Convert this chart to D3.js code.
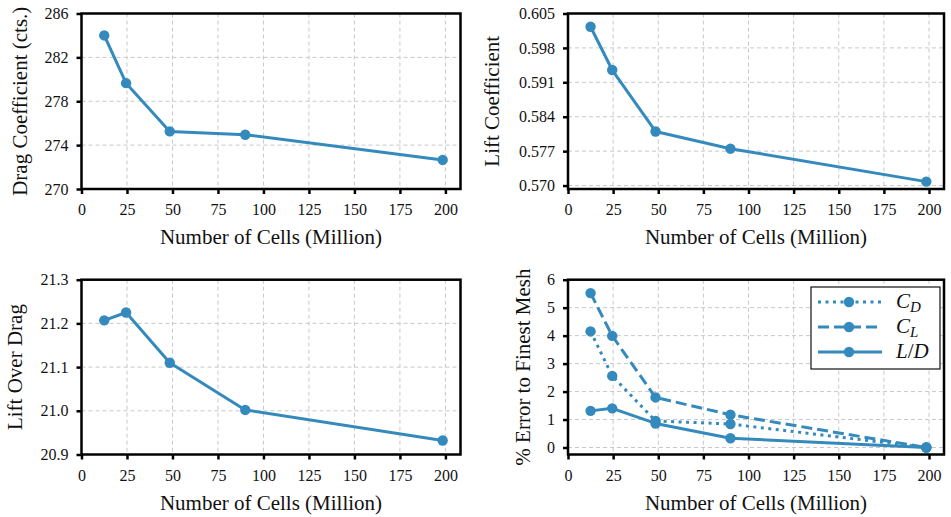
<!DOCTYPE html>
<html>
<head>
<meta charset="utf-8">
<script src="https://cdn.jsdelivr.net/npm/d3@7"></script>
<style>
  body { margin: 0; background: #fff; }
  svg { display: block; }
  .grid line { stroke: #c8c8c8; stroke-width: 1; stroke-dasharray: 4 3; }
</style>
</head>
<body>
<div id="chart"></div>
<script>
// mesh sizes (million cells)
const cells = [12.5, 24.5, 48.5, 90, 198.5];

// panel data
const dragCts = [284.0, 279.65, 275.25, 274.95, 272.65];
const liftCoef = [0.6023, 0.5935, 0.5810, 0.5775, 0.5708];
const liftOverDrag = [21.207, 21.225, 21.110, 21.002, 20.932];
const errCD = [4.15, 2.56, 0.95, 0.84, 0.0];
const errCL = [5.52, 3.99, 1.79, 1.17, 0.0];
const errLD = [1.31, 1.40, 0.86, 0.33, 0.0];

// tick labels
const xTicks = [0, 25, 50, 75, 100, 125, 150, 175, 200];
const dragTicks = [270, 274, 278, 282, 286];
const liftTicks = [0.570, 0.577, 0.584, 0.591, 0.598, 0.605];
const ldTicks = [20.9, 21.0, 21.1, 21.2, 21.3];
const errTicks = [0, 1, 2, 3, 4, 5, 6];

const color = '#348abd';
const serif = 'Liberation Serif';
const W = 951, H = 517;

const svg = d3.select('#chart').append('svg')
  .attr('width', W)
  .attr('height', H);

// dash patterns like matplotlib ':' '--' '-'
const dashes = { dotted: '3 4.5', dashed: '11 5', solid: null };

function drawPanel(p) {
  const x = d3.scaleLinear().domain([0, 208.3]).range([p.left, p.right]);
  const y = d3.scaleLinear().domain(p.yDomain).range([p.bottom, p.top]);

  const g = svg.append('g');

  // grid
  const grid = g.append('g').attr('class', 'grid');
  grid.selectAll('.gx').data(xTicks).enter().append('line')
    .attr('x1', d => x(d)).attr('x2', d => x(d))
    .attr('y1', p.top).attr('y2', p.bottom);
  grid.selectAll('.gy').data(p.yTicks).enter().append('line')
    .attr('x1', p.left).attr('x2', p.right)
    .attr('y1', d => y(d)).attr('y2', d => y(d));

  // axes
  const xaxis = d3.axisBottom(x).tickValues(xTicks).tickSize(5).tickPadding(10)
    .tickFormat(d3.format('d'));
  const yaxis = d3.axisLeft(y).tickValues(p.yTicks).tickSize(5).tickPadding(8)
    .tickFormat(p.fmt);

  const gx = g.append('g').attr('transform', `translate(0,${p.bottom})`).call(xaxis);
  const gy = g.append('g').attr('transform', `translate(${p.left},0)`).call(yaxis);
  [gx, gy].forEach(a => {
    a.select('.domain').remove();
    a.selectAll('.tick line').attr('stroke', '#000').attr('stroke-width', 2.5);
    a.selectAll('.tick text')
      .style('font-family', serif)
      .style('font-size', '16px')
      .attr('fill', '#111');
  });

  // series
  const line = d3.line().x(d => x(d[0])).y(d => y(d[1]));
  p.series.forEach(s => {
    const pts = cells.map((c, i) => [c, s.values[i]]);
    g.append('path')
      .datum(pts)
      .attr('d', line)
      .attr('fill', 'none')
      .attr('stroke', color)
      .attr('stroke-width', 3)
      .attr('stroke-dasharray', dashes[s.style])
      .attr('stroke-linejoin', 'round');
    g.selectAll(null).data(pts).enter().append('circle')
      .attr('cx', d => x(d[0]))
      .attr('cy', d => y(d[1]))
      .attr('r', 5.2)
      .attr('fill', color);
  });

  // frame
  g.append('rect')
    .attr('x', p.left).attr('y', p.top)
    .attr('width', p.right - p.left).attr('height', p.bottom - p.top)
    .attr('fill', 'none').attr('stroke', '#000').attr('stroke-width', 2.5);

  // labels
  g.append('text')
    .attr('x', (p.left + p.right) / 2)
    .attr('y', p.bottom + 55)
    .attr('text-anchor', 'middle')
    .style('font-family', serif)
    .style('font-size', '21px')
    .attr('fill', '#111')
    .text('Number of Cells (Million)');

  g.append('text')
    .attr('transform', `translate(${p.yLabelX},${(p.top + p.bottom) / 2}) rotate(-90)`)
    .attr('text-anchor', 'middle')
    .attr('dominant-baseline', 'central')
    .style('font-family', serif)
    .style('font-size', '21px')
    .attr('fill', '#111')
    .text(p.yLabel);

  return g;
}

drawPanel({
  left: 81.5, right: 460.5, top: 13.5, bottom: 189,
  yDomain: [270, 286], yTicks: dragTicks, fmt: d3.format('d'),
  yLabel: 'Drag Coefficient (cts.)', yLabelX: 20,
  series: [{ values: dragCts, style: 'solid' }]
});

drawPanel({
  left: 568, right: 944, top: 13.5, bottom: 189,
  yDomain: [0.5693, 0.605], yTicks: liftTicks, fmt: d3.format('.3f'),
  yLabel: 'Lift Coefficient', yLabelX: 492,
  series: [{ values: liftCoef, style: 'solid' }]
});

drawPanel({
  left: 81.5, right: 460.5, top: 279.7, bottom: 454.5,
  yDomain: [20.9, 21.3], yTicks: ldTicks, fmt: d3.format('.1f'),
  yLabel: 'Lift Over Drag', yLabelX: 15,
  series: [{ values: liftOverDrag, style: 'solid' }]
});

const errPanel = drawPanel({
  left: 568, right: 944, top: 279.7, bottom: 454.5,
  yDomain: [-0.25, 6], yTicks: errTicks, fmt: d3.format('d'),
  yLabel: '% Error to Finest Mesh', yLabelX: 523,
  series: [
    { values: errCD, style: 'dotted' },
    { values: errCL, style: 'dashed' },
    { values: errLD, style: 'solid' }
  ]
});

// legend
const legendItems = [
  { style: 'dotted', main: 'C', sub: 'D' },
  { style: 'dashed', main: 'C', sub: 'L' },
  { style: 'solid', main: 'L/D', sub: null }
];
const lg = errPanel.append('g');
lg.append('rect')
  .attr('x', 811).attr('y', 287)
  .attr('width', 129).attr('height', 82)
  .attr('fill', '#fff').attr('stroke', '#111').attr('stroke-width', 1.2);

legendItems.forEach((it, i) => {
  const cy = 302 + i * 25;
  lg.append('line')
    .attr('x1', 818).attr('x2', 882)
    .attr('y1', cy).attr('y2', cy)
    .attr('stroke', color).attr('stroke-width', 3)
    .attr('stroke-dasharray', dashes[it.style]);
  lg.append('circle')
    .attr('cx', 849).attr('cy', cy).attr('r', 5.2).attr('fill', color);
  const t = lg.append('text')
    .attr('x', 896).attr('y', cy + 6)
    .style('font-family', serif)
    .style('font-size', '21px')
    .style('font-style', 'italic')
    .attr('fill', '#111');
  if (it.sub) {
    t.append('tspan').text(it.main);
    t.append('tspan').style('font-size', '15px').attr('dy', 4).text(it.sub);
  } else {
    t.append('tspan').text('L');
    t.append('tspan').style('font-style', 'normal').text('/');
    t.append('tspan').text('D');
  }
});
</script>
</body>
</html>
